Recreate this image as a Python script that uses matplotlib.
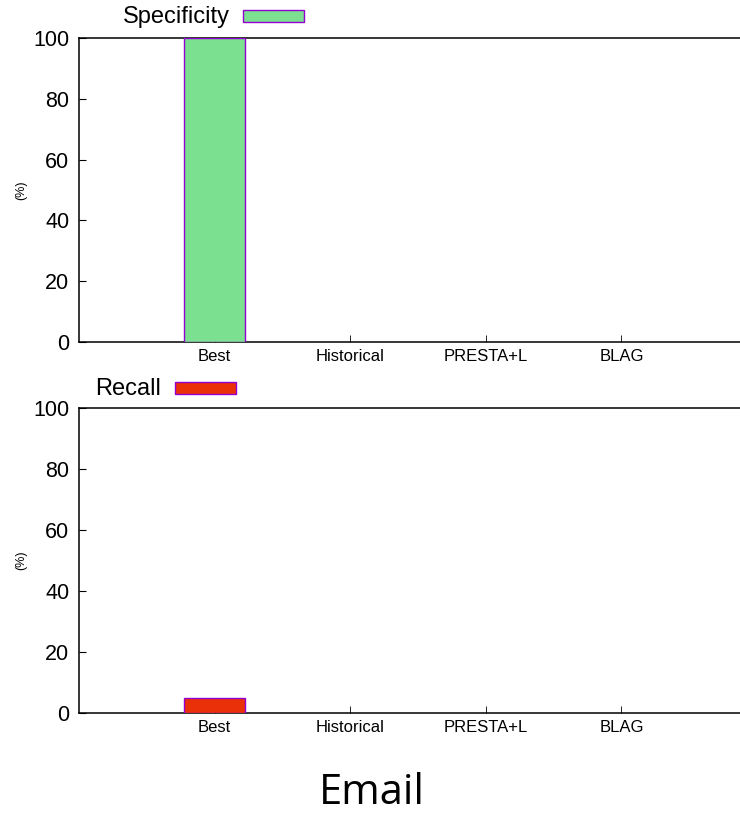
import matplotlib
matplotlib.use("Agg")
import matplotlib.pyplot as plt
from matplotlib.patches import Rectangle

plt.rcParams["font.family"] = ["Liberation Sans", "DejaVu Sans"]

methods = ["Best", "Historical", "PRESTA+L", "BLAG"]
specificity = [100, 0, 0, 0]
recall = [5, 0, 0, 0]

green = "#7be08f"
red = "#ea3008"
edge = "#9400d3"

W, H = 740, 823
fig = plt.figure(figsize=(W / 100, H / 100), dpi=100)


def px_box(left, top, right, bottom):
    return [left / W, 1 - bottom / H, (right - left) / W, (bottom - top) / H]


def panel(rect, values, color, label, text_right, swatch, text_y):
    ax = fig.add_axes(rect)
    x = list(range(len(methods)))
    # empty bars get no outline
    widths = [1.0 if v > 0 else 0.0 for v in values]
    ax.bar(x, values, width=0.45, color=color, edgecolor=edge, linewidth=widths, zorder=3)
    ax.set_xlim(-1, 4)
    ax.set_ylim(0, 100)
    ax.set_yticks(range(0, 101, 20))
    ax.set_xticks(x)
    ax.set_xticklabels(methods, fontsize=12)
    ax.tick_params(axis="y", labelsize=15.5, direction="in", length=5, width=0.8, pad=7)
    ax.tick_params(axis="x", direction="in", length=5, width=0.6, pad=5)
    for s in ("left", "bottom", "top"):
        ax.spines[s].set_linewidth(1.1)
    ax.spines["right"].set_visible(False)
    ax.set_ylabel("(%)", fontsize=9)
    ax.yaxis.set_label_coords((27 - rect[0] * W) / (rect[2] * W), 0.5)
    # key: label text followed by a filled swatch
    fig.text(text_right / W, 1 - text_y / H, label, ha="right", va="center", fontsize=17)
    l, t, r, b = swatch
    fig.add_artist(Rectangle((l / W, 1 - b / H), (r - l) / W, (b - t) / H,
                             transform=fig.transFigure, facecolor=color,
                             edgecolor=edge, linewidth=1.0))
    return ax


panel(px_box(79, 38, 757, 342), specificity, green, "Specificity", 230, (243, 10, 304, 22), 17)
panel(px_box(79, 408, 757, 713), recall, red, "Recall", 161, (175, 382, 236, 394), 389)

fig.text(372 / W, 1 - 804 / H, "Email", ha="center", va="baseline", fontsize=30,
         family=["Open Sans", "DejaVu Sans"])

fig.savefig("out.png", dpi=100)
